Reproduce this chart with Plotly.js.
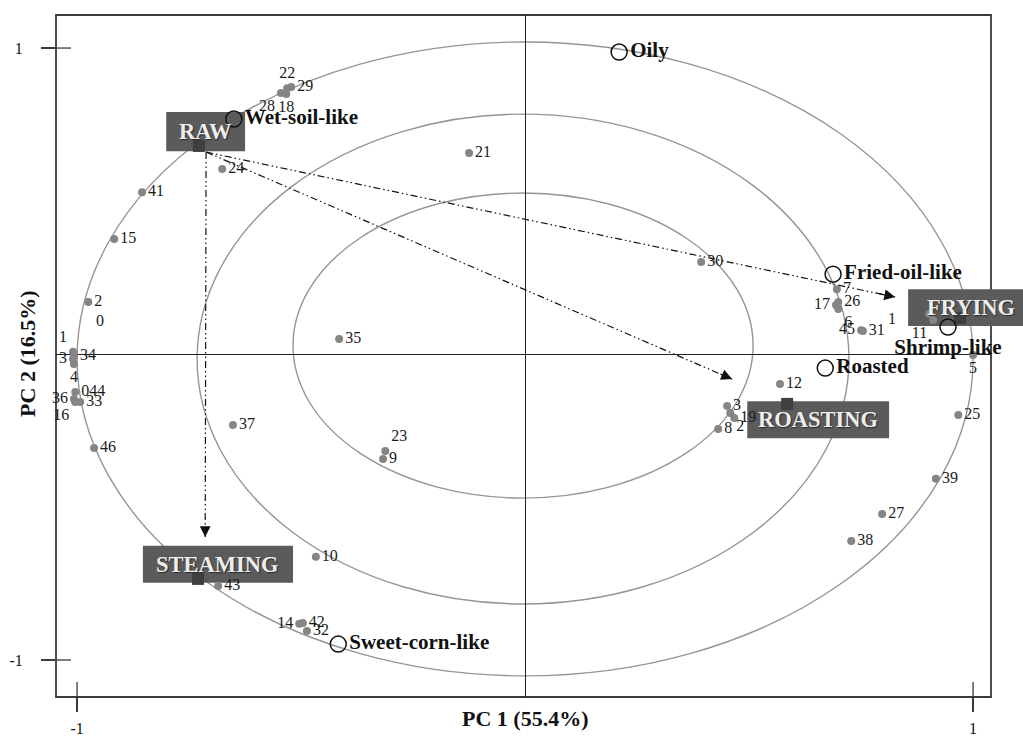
<!DOCTYPE html>
<html>
<head>
<meta charset="utf-8">
<script src="https://cdn.plot.ly/plotly-3.0.1.min.js"></script>
<style>html,body{margin:0;padding:0;background:#fff}#chart{width:1023px;height:739px}</style>
</head>
<body>
<div id="chart"></div>
<script>
// ---- data ----
const sampleText = ["22","29","28","18","24","41","15","2","1","34","3","4","044","36","16","33","46","37","35","23","9","21","10","43","14","42","32",
                    "30","7","26","17","6","45","31","","11","5","12","3","19","2","8","25","39","27","38"];
const samplePC1 = [-0.531,-0.522,-0.545,-0.533,-0.676,-0.855,-0.917,-0.975,-1.009,-1.007,-1.009,-1.007,-1.004,-1.007,-1.004,-0.993,-0.962,-0.652,-0.415,-0.312,-0.317,-0.125,-0.467,-0.685,-0.504,-0.496,-0.487,
                   0.393,0.696,0.699,0.694,0.699,0.750,0.754,0.902,0.911,1.000,0.569,0.451,0.467,0.458,0.431,0.967,0.917,0.797,0.728];
const samplePC2 = [0.869,0.873,0.853,0.850,0.605,0.529,0.376,0.170,0.007,-0.007,-0.016,-0.033,-0.124,-0.147,-0.157,-0.157,-0.307,-0.232,0.049,-0.317,-0.343,0.657,-0.663,-0.758,-0.882,-0.879,-0.905,
                   0.301,0.212,0.170,0.160,0.147,0.078,0.075,0.131,0.111,-0.003,-0.098,-0.170,-0.209,-0.193,-0.245,-0.199,-0.408,-0.523,-0.611];
const extraText = ["0","1"];
const extraPC1 = [-0.949, 0.819];
const extraPC2 = [0.105, 0.111];

const attrNames = ["Wet-soil-like","Oily","Fried-oil-like","Shrimp-like","Roasted","Sweet-corn-like"];
const attrPC1 = [-0.650, 0.210, 0.6875, 0.944, 0.670, -0.417];
const attrPC2 = [0.768, 0.987, 0.261, 0.088, -0.046, -0.948];

const treatNames = ["RAW","STEAMING","ROASTING","FRYING"];
const treatPC1 = [-0.728, -0.730, 0.585, 0.971];
const treatPC2 = [0.680, -0.735, -0.163, 0.118];

// arrows from RAW towards the processed samples (tips)
const arrowFromPC1 = -0.712, arrowFromPC2 = 0.660;
const arrowToPC1 = [0.826, 0.462, -0.714];
const arrowToPC2 = [0.186, -0.082, -0.598];

// reference ellipses (extent on each side of the origin)
const ellLeft = [-1.0, -0.732, -0.518];
const ellRight = [1.0, 0.723, 0.509];
const ellTop = [1.020, 0.784, 0.526];
const ellBottom = [-1.052, -0.817, -0.471];

const tickVals = [-1, 1];
const tickText = ["-1", "1"];

// ---- styling / layout ----
const samplePos = ["top center","middle right","bottom left","bottom center","middle right","middle right","middle right","middle right","top left","middle right","middle left","bottom center","middle right","middle left","bottom left","middle right","middle right","middle right","middle right","top right","middle right","middle right","middle right","middle right","middle left","middle right","middle right",
                   "middle right","middle right","middle right","middle left","bottom right","middle left","middle right","middle left","bottom left","bottom center","middle right","middle right","middle right","bottom right","middle right","middle right","middle right","middle right","middle right"];
const attrPos = ["middle right","middle right","middle right","bottom center","middle right","middle right"];

const xRange = [-1.047, 1.040];
const yRange = [-1.121, 1.108];
const serif = "Liberation Serif, Times New Roman, serif";

// label boxes (in data units) for the treatments
const boxes = [
  {x0:-0.801, x1:-0.625, y0:0.663, y1:0.791},
  {x0:-0.853, x1:-0.518, y0:-0.748, y1:-0.627},
  {x0:0.496, x1:0.8125, y0:-0.275, y1:-0.154},
  {x0:0.855, x1:1.112, y0:0.0915, y1:0.212}
];
const boxFill = "#5b5b5b";

const px = v => (v - xRange[0]) / (xRange[1] - xRange[0]);
const py = v => (v - yRange[0]) / (yRange[1] - yRange[0]);

const traces = [];
const dashPat = "7px,3px,1.5px,3px,1.5px,3px";
for (let i = 0; i < arrowToPC1.length; i++) {
  traces.push({x:[arrowFromPC1, arrowToPC1[i]], y:[arrowFromPC2, arrowToPC2[i]], mode:"lines",
    line:{color:"#111", width:1.2, dash:dashPat}, hoverinfo:"skip", showlegend:false});
}
traces.push({x:samplePC1, y:samplePC2, text:sampleText, mode:"markers+text", textposition:samplePos,
  marker:{size:8, color:"#858585"}, textfont:{family:serif, size:16, color:"#1a1a1a"}, cliponaxis:false, showlegend:false});
traces.push({x:extraPC1, y:extraPC2, text:extraText, mode:"text", textposition:"middle center",
  textfont:{family:serif, size:16, color:"#1a1a1a"}, cliponaxis:false, showlegend:false});
traces.push({x:treatPC1, y:treatPC2, mode:"markers", marker:{symbol:"square", size:12, color:"#3f3f3f"}, showlegend:false, cliponaxis:false});
traces.push({x:attrPC1, y:attrPC2, text:attrNames, mode:"markers+text", textposition:attrPos,
  marker:{symbol:"circle-open", size:16, color:"#111", line:{width:1.5}},
  textfont:{family:serif, size:21, color:"#111", weight:"bold"}, cliponaxis:false, showlegend:false});

const shapes = [];
// frame
shapes.push({type:"rect", xref:"paper", yref:"paper", x0:0, x1:1, y0:0, y1:1, layer:"below", line:{color:"#3a3a3a", width:1.8}, fillcolor:"rgba(0,0,0,0)"});
// inside halves of crossing ticks
tickVals.forEach(v => {
  shapes.push({type:"line", xref:"paper", yref:"paper", x0:px(v), x1:px(v), y0:0, y1:15/682, layer:"below", line:{color:"#3a3a3a", width:1.3}});
  shapes.push({type:"line", xref:"paper", yref:"paper", x0:0, x1:15/935, y0:py(v), y1:py(v), layer:"below", line:{color:"#3a3a3a", width:1.3}});
});
// FRYING box overhang outside the frame
shapes.push({type:"rect", xref:"paper", yref:"paper", x0:1.0, x1:px(boxes[3].x1), y0:py(boxes[3].y0), y1:py(boxes[3].y1), layer:"below", line:{width:0}, fillcolor:boxFill});
// ellipses
for (let i = 0; i < ellLeft.length; i++) {
  shapes.push({type:"circle", xref:"x", yref:"y", x0:ellLeft[i], x1:ellRight[i], y0:ellBottom[i], y1:ellTop[i], layer:"below", line:{color:"#959595", width:1.4}});
}
// treatment boxes
boxes.forEach(b => shapes.push({type:"rect", xref:"x", yref:"y", x0:b.x0, x1:b.x1, y0:b.y0, y1:b.y1, layer:"below", line:{width:0}, fillcolor:boxFill}));

const annotations = [];
boxes.forEach((b, i) => {
  let cx = (b.x0 + b.x1) / 2;
  if (i === 3) cx = (b.x0 + b.x1) / 2 + 0.012;
  annotations.push({x:cx, y:(b.y0 + b.y1) / 2, xref:"x", yref:"y", text:treatNames[i], showarrow:false,
    font:{family:serif, size:22.5, color:"#ededed", weight:"bold", shadow:"1px 1px 1px #2a2a2a"}, xanchor:"center", yanchor:"middle"});
});
for (let i = 0; i < arrowToPC1.length; i++) {
  const dx = arrowToPC1[i] - arrowFromPC1, dy = arrowToPC2[i] - arrowFromPC2;
  annotations.push({x:arrowToPC1[i], y:arrowToPC2[i], ax:arrowToPC1[i] - dx * 0.025, ay:arrowToPC2[i] - dy * 0.025,
    xref:"x", yref:"y", axref:"x", ayref:"y", text:"", showarrow:true, arrowhead:2, arrowsize:1.8, arrowwidth:1.2, arrowcolor:"#111", standoff:0, startstandoff:0});
}
annotations.push({x:0.5016, y:-0.031, xref:"paper", yref:"paper", text:"PC 1 (55.4%)", showarrow:false,
  font:{family:serif, size:22, color:"#111", weight:"bold"}, xanchor:"center", yanchor:"middle"});
annotations.push({x:-0.030, y:0.503, xref:"paper", yref:"paper", text:"PC 2 (16.5%)", showarrow:false, textangle:-90,
  font:{family:serif, size:22, color:"#111", weight:"bold"}, xanchor:"center", yanchor:"middle"});

const layout = {
  width:1023, height:739,
  margin:{l:56, r:32, t:15, b:42, pad:0},
  paper_bgcolor:"#fff", plot_bgcolor:"rgba(0,0,0,0)",
  showlegend:false,
  xaxis:{range:xRange, tickvals:tickVals, ticktext:tickText, ticks:"outside", ticklen:14, tickwidth:1.3, tickcolor:"#3a3a3a",
    showgrid:false, zeroline:true, zerolinecolor:"#222", zerolinewidth:1, showline:false, ticklabelstandoff:3,
    tickfont:{family:serif, size:16, color:"#111"}, fixedrange:true},
  yaxis:{range:yRange, tickvals:tickVals, ticktext:tickText, ticks:"outside", ticklen:14, tickwidth:1.3, tickcolor:"#3a3a3a",
    showgrid:false, zeroline:true, zerolinecolor:"#222", zerolinewidth:1, showline:false, ticklabelstandoff:15,
    tickfont:{family:serif, size:16, color:"#111"}, fixedrange:true},
  shapes:shapes, annotations:annotations
};
Plotly.newPlot("chart", traces, layout, {displayModeBar:false, staticPlot:true});
</script>
</body>
</html>
